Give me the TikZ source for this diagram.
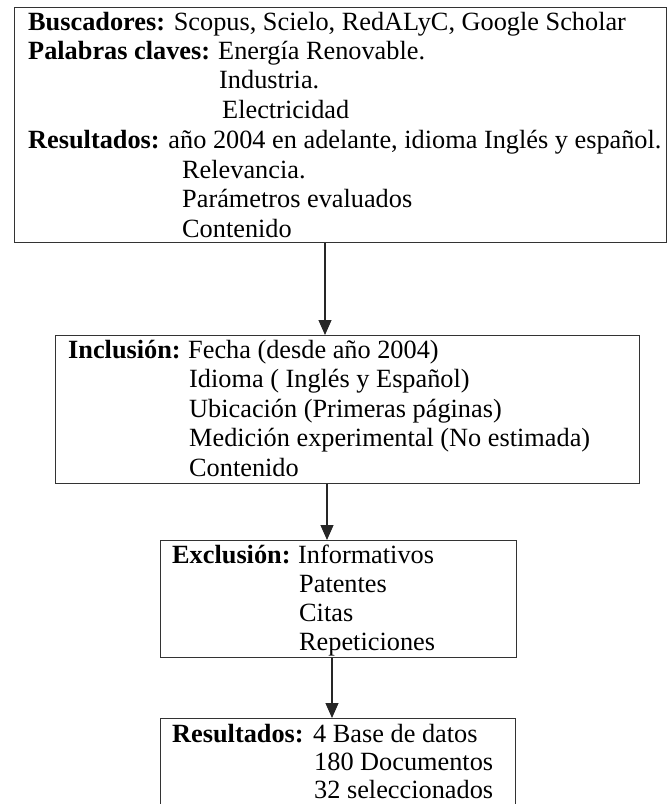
\documentclass[tikz,border=0pt]{standalone}
\usepackage{fontspec}
\setmainfont{Liberation Serif}
\usetikzlibrary{arrows.meta}
\begin{document}
\begin{tikzpicture}[x=1pt,y=-1pt,
  boxnode/.style={draw=black!80,line width=1.3pt,rectangle,inner sep=0pt,anchor=north west},
  txt/.style={anchor=base west,inner sep=0pt,font=\fontsize{26.3}{29.6}\selectfont},
  arr/.style={draw=black!85,line width=1.2pt,-{Triangle[width=13pt,length=15pt]}}]
\useasboundingbox (0,0) rectangle (667,804);
\clip (0,0) rectangle (667,804);
\fill[white] (0,0) rectangle (667,804);
% boxes
\node[boxnode,minimum width=652pt,minimum height=235pt] (b1) at (14,7) {};
\node[boxnode,minimum width=584pt,minimum height=148pt] (b2) at (55,335) {};
\node[boxnode,minimum width=356pt,minimum height=117pt] (b3) at (160,540) {};
\node[boxnode,minimum width=355pt,minimum height=130pt] (b4) at (160,718) {};
% box 1 text
\node[txt] (t11) at (28,30) {\textbf{Buscadores:} Scopus, Scielo, RedALyC, Google Scholar};
\node[txt] (t12) at (28,59.4) {\textbf{Palabras claves:}};
\node[txt] (t12b) at (218,59.4) {Energía Renovable.};
\node[txt] (t13) at (219,88.8) {Industria.};
\node[txt] (t14) at (222,118.2) {Electricidad};
\node[txt] (t15) at (28,148.4) {\textbf{Resultados:} año 2004 en adelante, idioma Inglés y español.};
\node[txt] (t16) at (182,178) {Relevancia.};
\node[txt] (t17) at (182,207.6) {Parámetros evaluados};
\node[txt] (t18) at (182,237.2) {Contenido};
% box 2 text
\node[txt] (t21) at (68,358) {\textbf{Inclusión:}};
\node[txt] (t21b) at (188,358) {Fecha (desde año 2004)};
\node[txt] (t22) at (189,387.5) {Idioma ( Inglés y Español)};
\node[txt] (t23) at (189,417) {Ubicación (Primeras páginas)};
\node[txt] (t24) at (189,446.5) {Medición experimental (No estimada)};
\node[txt] (t25) at (189,476) {Contenido};
% box 3 text
\node[txt] (t31) at (172,563) {\textbf{Exclusión:}};
\node[txt] (t31b) at (298,563) {Informativos};
\node[txt] (t32) at (299,592) {Patentes};
\node[txt] (t33) at (299,621) {Citas};
\node[txt] (t34) at (299,650) {Repeticiones};
% box 4 text
\node[txt] (t41) at (172,742) {\textbf{Resultados:}};
\node[txt] (t41b) at (313,742) {4 Base de datos};
\node[txt] (t42) at (314,770) {180 Documentos};
\node[txt] (t43) at (314,798) {32 seleccionados};
% arrows
\coordinate (a1) at (325,0);
\coordinate (a2) at (327,0);
\coordinate (a3) at (332,0);
\draw[arr] (a1 |- b1.south) -- (a1 |- b2.north);
\draw[arr] (a2 |- b2.south) -- (a2 |- b3.north);
\draw[arr] (a3 |- b3.south) -- (a3 |- b4.north);
\end{tikzpicture}
\end{document}
